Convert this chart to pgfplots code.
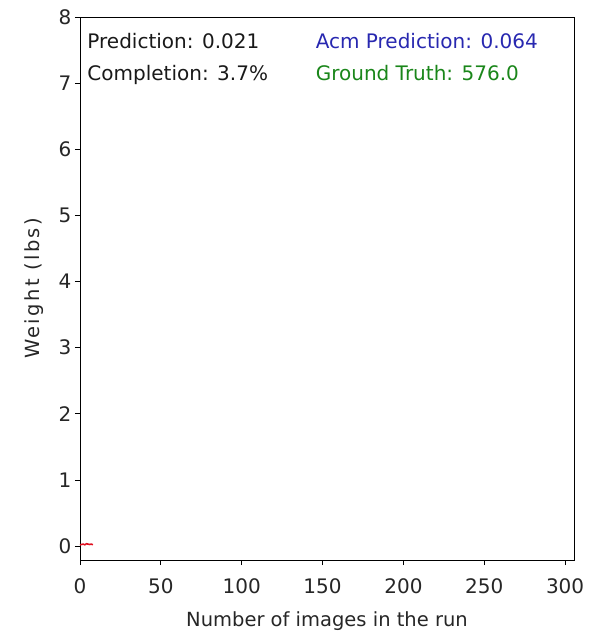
\documentclass[border=0pt]{standalone}
\usepackage{pgfplots}
\pgfplotsset{compat=1.18}
\usepackage{fontspec}
\setmainfont{DejaVu Sans}
\definecolor{mplblue}{HTML}{2828B0}
\definecolor{mplgreen}{HTML}{1A861A}
\definecolor{mplred}{HTML}{E01020}
\begin{document}
\begin{tikzpicture}
\useasboundingbox (-80pt,-75pt) rectangle (516pt,560pt);
\begin{axis}[
  at={(0,0)}, anchor=south west,
  scale only axis,
  width=494pt, height=543pt,
  xmin=0, xmax=305.5,
  ymin=-0.21, ymax=8,
  xtick={0,50,100,150,200,250,300},
  ytick={0,1,2,3,4,5,6,7,8},
  tick align=outside,
  tick pos=left,
  major tick length=5pt,
  tick style={black, line width=0.9pt},
  axis line style={black, line width=0.9pt},
  /pgf/number format/assume math mode=true,
  ticklabel style={font=\fontsize{20}{23}\selectfont, color=black!85},
  xticklabel style={yshift=-10pt},
  xlabel={Number of images in the run},
  ylabel={\addfontfeature{LetterSpace=12}Weight (lbs)},
  label style={font=\fontsize{19.5}{22}\selectfont, color=black!85},
  xlabel style={yshift=-11pt},
  ylabel style={yshift=8pt},
  clip=false,
]
\addplot[mplred, line width=1.6pt, forget plot] coordinates {
 (0,0.02) (1,0.025) (2,0.03) (3,0.02) (4,0.035) (5,0.03) (6,0.025) (7,0.03) (8,0.021)
};
\node[anchor=base west, font=\fontsize{20}{23}\selectfont, text=black!90, inner sep=0pt] at (axis cs:4.5,7.52) {Prediction: 0.021};
\node[anchor=base west, font=\fontsize{20}{23}\selectfont, text=black!90, inner sep=0pt] at (axis cs:4.5,7.04) {Completion: 3.7\%};
\node[anchor=base west, font=\fontsize{20}{23}\selectfont, text=mplblue, inner sep=0pt] at (axis cs:145.7,7.52) {Acm Prediction: 0.064};
\node[anchor=base west, font=\fontsize{20}{23}\selectfont, text=mplgreen, inner sep=0pt] at (axis cs:145.7,7.04) {Ground Truth: 576.0};
\end{axis}
\end{tikzpicture}
\end{document}
